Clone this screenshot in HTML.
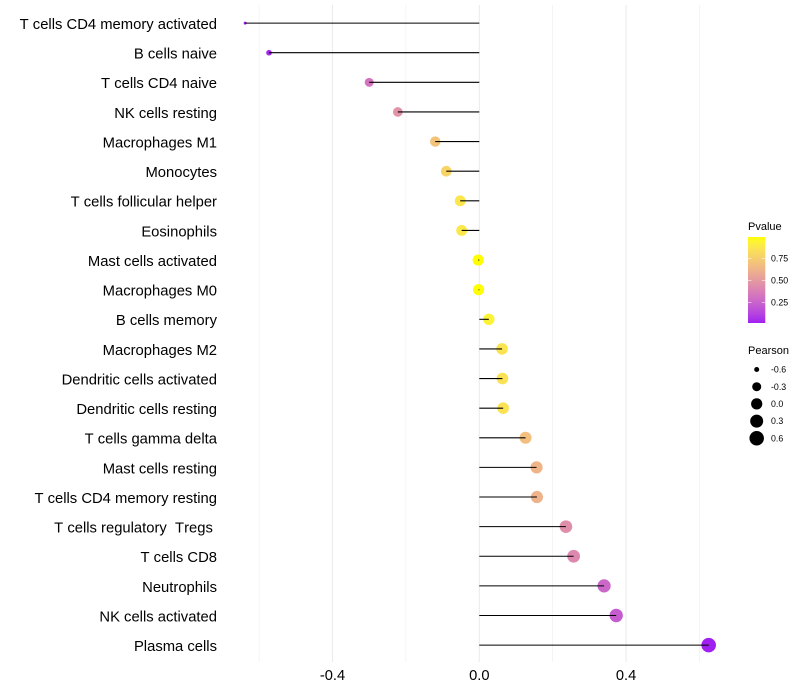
<!DOCTYPE html>
<html>
<head>
<meta charset="utf-8">
<style>
html,body{margin:0;padding:0;background:#fff;width:800px;height:700px;overflow:hidden}
svg{display:block}
text{font-family:"Liberation Sans",sans-serif;font-kerning:none}
</style>
</head>
<body>
<svg id="chart" width="800" height="700" viewBox="0 0 800 700" xmlns="http://www.w3.org/2000/svg">
<defs><linearGradient id="pgrad" x1="0" y1="1" x2="0" y2="0"></linearGradient></defs>
</svg>
<script>
var categories = ["T cells CD4 memory activated","B cells naive","T cells CD4 naive","NK cells resting","Macrophages M1","Monocytes","T cells follicular helper","Eosinophils","Mast cells activated","Macrophages M0","B cells memory","Macrophages M2","Dendritic cells activated","Dendritic cells resting","T cells gamma delta","Mast cells resting","T cells CD4 memory resting","T cells regulatory  Tregs ","T cells CD8","Neutrophils","NK cells activated","Plasma cells"];
var pearson = [-0.638,-0.573,-0.300,-0.222,-0.120,-0.090,-0.052,-0.048,-0.003,-0.002,0.026,0.062,0.063,0.065,0.126,0.156,0.157,0.236,0.257,0.340,0.373,0.625];
var pvalue = [0.02,0.04,0.33,0.47,0.70,0.78,0.87,0.88,0.99,0.99,0.93,0.86,0.85,0.85,0.68,0.63,0.62,0.45,0.42,0.27,0.22,0.02];
var xMajorTicks = [-0.4,0.0,0.4];
var xMinorTicks = [-0.6,-0.2,0.2,0.6];
var colorTicks = [0.25,0.50,0.75];
var sizeBreaks = [-0.6,-0.3,0.0,0.3,0.6];

var svg = document.getElementById('chart');
var NS = 'http://www.w3.org/2000/svg';
function xScale(v){ return 479.3 + v * 367; }
function yScale(i){ return 23.1 + i * 29.62; }
var pMin = 0.02, pMax = 0.99, sMin = -0.638, sMax = 0.625;
function rScale(v){
  var t = Math.max(0, (v - sMin) / (sMax - sMin));
  return 1.5 + Math.sqrt(t) * 5.8;
}
function pScale(p){ return 323 - (p - pMin) / (pMax - pMin) * 86; }
function lin(c){ c /= 255; return c > 0.04045 ? Math.pow((c + 0.055) / 1.055, 2.4) : c / 12.92; }
function gam(c){ c = c > 0.0031308 ? 1.055 * Math.pow(c, 1 / 2.4) - 0.055 : 12.92 * c; return Math.round(Math.min(1, Math.max(0, c)) * 255); }
function toLab(r,g,b){
  r = lin(r); g = lin(g); b = lin(b);
  var x = (0.4124*r + 0.3576*g + 0.1805*b) / 0.95047, y = 0.2126*r + 0.7152*g + 0.0722*b, z = (0.0193*r + 0.1192*g + 0.9505*b) / 1.08883;
  function f(t){ return t > 0.008856 ? Math.cbrt(t) : 7.787*t + 16/116; }
  return [116*f(y) - 16, 500*(f(x) - f(y)), 200*(f(y) - f(z))];
}
function fromLab(L,a,b){
  var fy = (L + 16) / 116, fx = fy + a / 500, fz = fy - b / 200;
  function g(t){ return t*t*t > 0.008856 ? t*t*t : (t - 16/116) / 7.787; }
  var x = g(fx) * 0.95047, y = g(fy), z = g(fz) * 1.08883;
  return 'rgb(' + gam(3.2406*x - 1.5372*y - 0.4986*z) + ',' + gam(-0.9689*x + 1.8758*y + 0.0415*z) + ',' + gam(0.0557*x - 0.2040*y + 1.0570*z) + ')';
}
var labLow = toLab(160,32,240), labHigh = toLab(255,255,0);
function colorScale(p){
  var t = Math.min(1, Math.max(0, (p - pMin) / (pMax - pMin)));
  return fromLab(labLow[0] + t*(labHigh[0]-labLow[0]), labLow[1] + t*(labHigh[1]-labLow[1]), labLow[2] + t*(labHigh[2]-labLow[2]));
}
function mk(tag, attrs, parent){
  var el = document.createElementNS(NS, tag);
  for (var k in attrs) el.setAttribute(k, attrs[k]);
  (parent || svg).appendChild(el);
  return el;
}
function fmt(v, d){ return v.toFixed(d); }

xMinorTicks.forEach(function(v){
  var el = mk('line', {x1:xScale(v), x2:xScale(v), y1:5, y2:662, stroke:'#ebebeb', 'stroke-width':0.55});
  
  
});
xMajorTicks.forEach(function(v){
  var el = mk('line', {x1:xScale(v), x2:xScale(v), y1:5, y2:662, stroke:'#ebebeb', 'stroke-width':1.07});
  
  
  var t = mk('text', {x:xScale(v), y:680, 'text-anchor':'middle', 'font-size':14.67, fill:'#000'});
  t.textContent = fmt(v, 1);
  
  
});
categories.forEach(function(name, i){
  var t = mk('text', {x:217, y:yScale(i) + 5.9, 'text-anchor':'end', 'font-size':14.8, fill:'#000', 'xml:space':'preserve'});
  t.style.whiteSpace = 'pre';
  t.textContent = name;
  
  
  var c = mk('circle', {cx:xScale(pearson[i]), cy:yScale(i), r:rScale(pearson[i]), fill:colorScale(pvalue[i])});
  
  
});
categories.forEach(function(name, i){
  var l = mk('line', {x1:xScale(0), x2:xScale(pearson[i]), y1:yScale(i), y2:yScale(i), stroke:'#000', 'stroke-width':1.07});
  
  
});

var title1 = mk('text', {x:748, y:230, 'font-size':11, fill:'#000'});
title1.textContent = 'Pvalue';


var grad = document.getElementById('pgrad');
for (var s = 0; s <= 20; s++) {
  mk('stop', {offset:(s * 5) + '%', 'stop-color':colorScale(pMin + (pMax - pMin) * s / 20)}, grad);
}
var bar = mk('rect', {x:748, y:237, width:17.3, height:86, fill:'url(#pgrad)'});


colorTicks.forEach(function(p){
  var y = pScale(p);
  mk('line', {x1:748, x2:751.5, y1:y, y2:y, stroke:'#fff', 'stroke-width':0.55});
  mk('line', {x1:761.8, x2:765.3, y1:y, y2:y, stroke:'#fff', 'stroke-width':0.55});
  var t = mk('text', {x:771, y:y + 3.1, 'font-size':8.8, fill:'#000'});
  t.textContent = fmt(p, 2);
  
  
});

var title2 = mk('text', {x:748, y:354, 'font-size':11, fill:'#000'});
title2.textContent = 'Pearson';


sizeBreaks.forEach(function(v, i){
  var y = 369.5 + i * 17.2;
  var c = mk('circle', {cx:756.7, cy:y, r:rScale(v), fill:'#000'});
  
  
  var t = mk('text', {x:771, y:y + 3.1, 'font-size':8.8, fill:'#000'});
  t.textContent = fmt(v, 1);
  
  
});
</script>
</body>
</html>
